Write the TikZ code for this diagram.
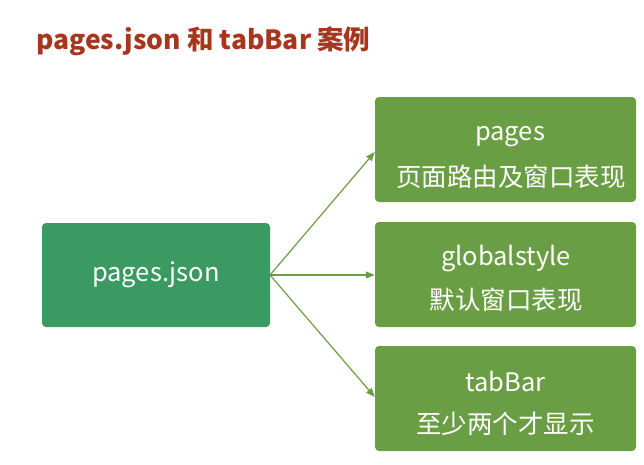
\documentclass[tikz,border=0pt]{standalone}
\usepackage{fontspec}
\setmainfont{Noto Sans CJK SC}
\usetikzlibrary{arrows.meta}
\definecolor{boxA}{HTML}{3B9962}
\definecolor{boxB}{HTML}{6A9E44}
\definecolor{titlec}{HTML}{A8361F}
\tikzset{
  mainbox/.style={fill=boxA, rounded corners=4pt, draw=none},
  subbox/.style={fill=boxB, rounded corners=4pt, draw=none},
  boxtext/.style={text=white, font=\fontsize{25.5}{30}\selectfont, align=center},
  conn/.style={draw=boxB, line width=1.2pt, -{Triangle[length=9pt,width=7pt]}}
}
\begin{document}
\begin{tikzpicture}[x=1pt,y=-1pt]
\useasboundingbox (0,0) rectangle (644,464);
\node[anchor=west, text=titlec, font=\fontsize{26.5}{30}\selectfont\bfseries, inner sep=0pt] (title) at (36,41) {pages.json 和 tabBar 案例};
% boxes
\path[mainbox] (42,223) rectangle (270,327);
\node (main) at (156,275) [minimum width=228pt, minimum height=104pt, inner sep=0pt] {};
\node[boxtext] at (156,275) {pages.json};
\path[subbox] (375,97) rectangle (636,202);
\node (b1) at (505.5,149.5) [minimum width=261pt, minimum height=105pt, inner sep=0pt] {};
\node[boxtext] at (510,137) {pages};
\node[boxtext] at (511,177) {页面路由及窗口表现};
\path[subbox] (375,222) rectangle (636,327);
\node (b2) at (505.5,274.5) [minimum width=261pt, minimum height=105pt, inner sep=0pt] {};
\node[boxtext] at (506,259) {globalstyle};
\node[boxtext] at (506,300) {默认窗口表现};
\path[subbox] (375,346) rectangle (636,451);
\node (b3) at (505.5,398.5) [minimum width=261pt, minimum height=105pt, inner sep=0pt] {};
\node[boxtext] at (505.5,382) {tabBar};
\node[boxtext] at (505.5,424) {至少两个才显示};
% connectors
\coordinate (src) at (270,275);
\draw[conn] (src) -- (b1.west |- 0,152);
\draw[conn] (src) -- (b2.west |- 0,275);
\draw[conn] (src) -- (b3.west |- 0,397);
\end{tikzpicture}
\end{document}
